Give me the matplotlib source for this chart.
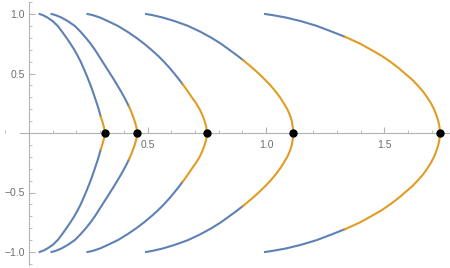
import matplotlib
matplotlib.use("Agg")
import matplotlib.pyplot as plt
from matplotlib.ticker import MultipleLocator, FixedLocator

plt.rcParams['font.family'] = ['Liberation Sans', 'DejaVu Sans']

# upper half of each curve (from y=1 down to y=0)
c1_x = [0.045, 0.059, 0.078, 0.100, 0.121, 0.140, 0.158, 0.175, 0.191, 0.205, 0.218, 0.229,
        0.240, 0.250, 0.260, 0.269, 0.2775, 0.286, 0.294, 0.301, 0.303, 0.309, 0.316, 0.321]
c1_y = [1.0, 0.99, 0.97, 0.94, 0.9, 0.85, 0.8, 0.75, 0.7, 0.65, 0.6, 0.55,
        0.5, 0.45, 0.4, 0.35, 0.3, 0.25, 0.2, 0.15, 0.137, 0.1, 0.05, 0.0]

c2_x = [0.095, 0.113, 0.137, 0.164, 0.193, 0.218, 0.240, 0.260, 0.278, 0.294, 0.310, 0.326,
        0.342, 0.358, 0.373, 0.388, 0.402, 0.415, 0.422, 0.427, 0.437, 0.446, 0.453, 0.457]
c2_y = [1.0, 0.99, 0.97, 0.94, 0.9, 0.85, 0.8, 0.75, 0.7, 0.65, 0.6, 0.55,
        0.5, 0.45, 0.4, 0.35, 0.3, 0.25, 0.221, 0.2, 0.15, 0.1, 0.05, 0.0]

c3_x = [0.247, 0.270, 0.300, 0.333, 0.375, 0.416, 0.453, 0.486, 0.516, 0.544, 0.569, 0.592,
        0.613, 0.633, 0.648, 0.652, 0.670, 0.687, 0.705, 0.720, 0.732, 0.741, 0.748, 0.750]
c3_y = [1.0, 0.99, 0.97, 0.94, 0.9, 0.85, 0.8, 0.75, 0.7, 0.65, 0.6, 0.55,
        0.5, 0.45, 0.41, 0.4, 0.35, 0.3, 0.25, 0.2, 0.15, 0.1, 0.05, 0.0]

c4_x = [0.494, 0.522, 0.565, 0.615, 0.671, 0.724, 0.770, 0.810, 0.845, 0.879, 0.903, 0.911,
        0.941, 0.969, 0.995, 1.019, 1.040, 1.059, 1.075, 1.090, 1.101, 1.109, 1.113, 1.115]
c4_y = [1.0, 0.99, 0.97, 0.94, 0.9, 0.85, 0.8, 0.75, 0.7, 0.65, 0.613, 0.6,
        0.55, 0.5, 0.45, 0.4, 0.35, 0.3, 0.25, 0.2, 0.15, 0.1, 0.05, 0.0]

c5_x = [0.996, 1.029, 1.085, 1.147, 1.214, 1.280, 1.332, 1.343, 1.398, 1.443, 1.487, 1.524,
        1.557, 1.586, 1.616, 1.640, 1.662, 1.680, 1.696, 1.709, 1.719, 1.727, 1.732, 1.734]
c5_y = [1.0, 0.99, 0.97, 0.94, 0.9, 0.85, 0.809, 0.8, 0.75, 0.7, 0.65, 0.6,
        0.55, 0.5, 0.45, 0.4, 0.35, 0.3, 0.25, 0.2, 0.15, 0.1, 0.05, 0.0]

# y where the colour changes from blue to orange
split_y = [0.137, 0.221, 0.41, 0.613, 0.809]

# the black points on the axis
peak_x = [0.321, 0.457, 0.750, 1.115, 1.734]
peak_y = [0, 0, 0, 0, 0]

blue = '#5e81b5'
orange = '#e19c24'
axcol = '#b3b3b3'
txtcol = '#6e6e6e'

fig = plt.figure(figsize=(4.5, 2.68), dpi=100)
ax = fig.add_axes([0, 0, 1, 1])

curves = [(c1_x, c1_y), (c2_x, c2_y), (c3_x, c3_y), (c4_x, c4_y), (c5_x, c5_y)]
for (xs, ys), s in zip(curves, split_y):
    k = ys.index(s)
    # blue ends
    ax.plot(xs[:k + 1], ys[:k + 1], color=blue, lw=1.5, solid_joinstyle='round')
    ax.plot(xs[:k + 1], [-v for v in ys[:k + 1]], color=blue, lw=1.5, solid_joinstyle='round')
    # orange middle
    mx = xs[k:] + xs[k:-1][::-1]
    my = ys[k:] + [-v for v in ys[k:-1][::-1]]
    ax.plot(mx, my, color=orange, lw=1.5, solid_joinstyle='round')

ax.plot(peak_x, peak_y, 'o', color='black', ms=5, zorder=5)

ax.set_xlim(-29 / 237, 421 / 237)
ax.set_ylim(-135 / 119, 133 / 119)

for side in ['top', 'right']:
    ax.spines[side].set_visible(False)
ax.spines['left'].set_position(('data', 0))
ax.spines['bottom'].set_position(('data', 0))
ax.spines['left'].set_bounds(-1.11, 1.1)
ax.spines['bottom'].set_bounds(-0.038, 1.776)
for side in ['left', 'bottom']:
    ax.spines[side].set_color(axcol)
    ax.spines[side].set_linewidth(0.8)

ax.xaxis.set_major_locator(FixedLocator([0.5, 1.0, 1.5]))
ax.xaxis.set_minor_locator(MultipleLocator(0.1))
ax.yaxis.set_major_locator(FixedLocator([-1.0, -0.5, 0.5, 1.0]))
ax.yaxis.set_minor_locator(MultipleLocator(0.1))
ax.set_xticklabels(['0.5', '1.0', '1.5'])
ax.set_yticklabels(['\u22121.0', '\u22120.5', '0.5', '1.0'])

ax.tick_params(which='major', direction='in', length=4, width=0.8, color=axcol,
               labelsize=7.5, labelcolor=txtcol)
ax.tick_params(which='minor', direction='in', length=2.5, width=0.6, color=axcol)
ax.tick_params(axis='x', which='major', pad=5)
ax.tick_params(axis='y', which='major', pad=3)

fig.savefig('out.png', dpi=100)
